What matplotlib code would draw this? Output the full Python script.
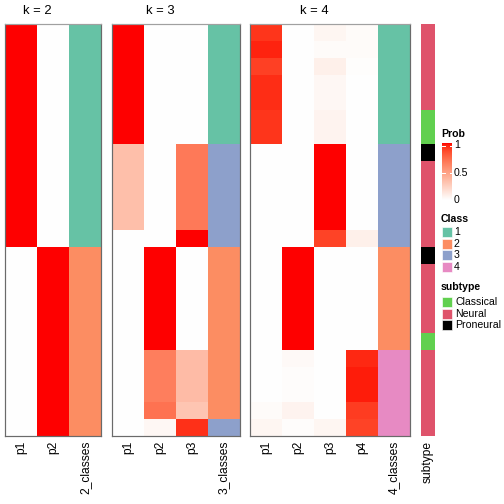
import numpy as np
import matplotlib
matplotlib.use("Agg")
import matplotlib.pyplot as plt
from matplotlib.colors import ListedColormap, to_rgb
from matplotlib.patches import Rectangle

plt.rcParams['font.family'] = ['Liberation Sans', 'DejaVu Sans']

# ---------------- data ----------------
k2_p1 = [1, 1, 1, 1, 1, 1, 1, 1, 1, 1, 1, 1, 1, 0, 0, 0, 0, 0, 0, 0, 0, 0, 0, 0]
k2_p2 = [0, 0, 0, 0, 0, 0, 0, 0, 0, 0, 0, 0, 0, 1, 1, 1, 1, 1, 1, 1, 1, 1, 1, 1]
k2_class = [1, 1, 1, 1, 1, 1, 1, 1, 1, 1, 1, 1, 1, 2, 2, 2, 2, 2, 2, 2, 2, 2, 2, 2]

k3_p1 = [1, 1, 1, 1, 1, 1, 1, 0.33, 0.33, 0.33, 0.33, 0.33, 0, 0, 0, 0, 0, 0, 0, 0, 0, 0, 0, 0]
k3_p2 = [0, 0, 0, 0, 0, 0, 0, 0, 0, 0, 0, 0, 0, 1, 1, 1, 1, 1, 1, 0.65, 0.65, 0.65, 0.7, 0.04]
k3_p3 = [0, 0, 0, 0, 0, 0, 0, 0.67, 0.67, 0.67, 0.67, 0.67, 1, 0, 0, 0, 0, 0, 0, 0.35, 0.35, 0.35, 0.3, 0.93]
k3_class = [1, 1, 1, 1, 1, 1, 1, 3, 3, 3, 3, 3, 3, 2, 2, 2, 2, 2, 2, 2, 2, 2, 2, 3]

k4_p1 = [0.92, 0.96, 0.89, 0.94, 0.94, 0.92, 0.92, 0, 0, 0, 0, 0, 0, 0, 0, 0, 0, 0, 0, 0, 0, 0, 0.02, 0.05]
k4_p2 = [0, 0, 0, 0, 0, 0, 0, 0, 0, 0, 0, 0, 0, 1, 1, 1, 1, 1, 1, 0.03, 0.015, 0.015, 0.06, 0.015]
k4_p3 = [0.05, 0.02, 0.08, 0.04, 0.04, 0.06, 0.06, 1, 1, 1, 1, 1, 0.88, 0, 0, 0, 0, 0, 0, 0, 0, 0, 0, 0.05]
k4_p4 = [0.02, 0.02, 0.01, 0, 0, 0, 0, 0, 0, 0, 0, 0, 0.08, 0, 0, 0, 0, 0, 0, 0.95, 0.97, 0.97, 0.9, 0.88]
k4_class = [1, 1, 1, 1, 1, 1, 1, 3, 3, 3, 3, 3, 3, 2, 2, 2, 2, 2, 2, 4, 4, 4, 4, 4]

subtype = ['Neural'] * 5 + ['Classical'] * 2 + ['Proneural'] + ['Neural'] * 5 + ['Proneural'] \
    + ['Neural'] * 4 + ['Classical'] + ['Neural'] * 5

class_labels = ['1', '2', '3', '4']
subtype_labels = ['Classical', 'Neural', 'Proneural']
prob_ticks = [0, 0.5, 1]
prob_tick_labels = ['0', '0.5', '1']

# ---------------- styles ----------------
class_colors = {1: '#66C2A5', 2: '#FC8D62', 3: '#8DA0CB', 4: '#E78AC3'}
subtype_colors = {'Classical': '#61D04F', 'Neural': '#DF536B', 'Proneural': '#000000'}


def srgb_to_lab(c):
    c = np.asarray(c, float)
    lin = np.where(c <= 0.04045, c / 12.92, ((c + 0.055) / 1.055) ** 2.4)
    M = np.array([[0.4124, 0.3576, 0.1805], [0.2126, 0.7152, 0.0722], [0.0193, 0.1192, 0.9505]])
    xyz = M @ lin
    xyz = xyz / np.array([0.95047, 1.0, 1.08883])
    f = np.where(xyz > 0.008856, np.cbrt(xyz), 7.787 * xyz + 16 / 116)
    return np.array([116 * f[1] - 16, 500 * (f[0] - f[1]), 200 * (f[1] - f[2])])


def lab_to_srgb(lab):
    L, a, b = lab
    fy = (L + 16) / 116
    fx = fy + a / 500
    fz = fy - b / 200
    f = np.array([fx, fy, fz])
    xyz = np.where(f ** 3 > 0.008856, f ** 3, (f - 16 / 116) / 7.787)
    xyz = xyz * np.array([0.95047, 1.0, 1.08883])
    Minv = np.array([[3.2406, -1.5372, -0.4986], [-0.9689, 1.8758, 0.0415], [0.0557, -0.2040, 1.0570]])
    lin = Minv @ xyz
    lin = np.clip(lin, 0, 1)
    c = np.where(lin <= 0.0031308, 12.92 * lin, 1.055 * lin ** (1 / 2.4) - 0.055)
    return np.clip(c, 0, 1)


w_lab = srgb_to_lab(to_rgb('white'))
r_lab = srgb_to_lab(to_rgb('red'))
cols = [lab_to_srgb(w_lab + (r_lab - w_lab) * t) for t in np.linspace(0, 1, 256)]
prob_cmap = ListedColormap(cols)

W = H = 504.0
fig = plt.figure(figsize=(7, 7), dpi=72)


def add_ax(x0, x1, y0, y1):
    return fig.add_axes([x0 / W, 1 - y1 / H, (x1 - x0) / W, (y1 - y0) / H])


def draw_heat(x0, x1, probs, classes, names, title, tx):
    ax = add_ax(x0, x1, 24, 436)
    n = len(classes)
    img = np.zeros((n, len(probs) + 1, 3))
    for j, p in enumerate(probs):
        for i in range(n):
            img[i, j] = prob_cmap(float(p[i]))[:3]
    for i in range(n):
        img[i, -1] = to_rgb(class_colors[classes[i]])
    ax.imshow(img, aspect='auto', interpolation='nearest')
    ax.set_xticks(range(len(names)))
    ax.set_xticklabels(names, rotation=90, fontsize=12)
    ax.tick_params(length=0, pad=5)
    ax.set_yticks([])
    for s in ax.spines.values():
        s.set_color('#6a6a6a')
        s.set_linewidth(1.2)
    ax.spines['top'].set_color('#a0a0a0')
    fig.text(tx / W, 1 - 11 / H, title, ha='center', va='center', fontsize=13)


draw_heat(5, 101, [k2_p1, k2_p2], k2_class, ['p1', 'p2', '2_classes'], 'k = 2', 37)
draw_heat(112, 240, [k3_p1, k3_p2, k3_p3], k3_class, ['p1', 'p2', 'p3', '3_classes'], 'k = 3', 160)
draw_heat(250, 410, [k4_p1, k4_p2, k4_p3, k4_p4], k4_class, ['p1', 'p2', 'p3', 'p4', '4_classes'], 'k = 4', 314)

# subtype annotation
ax = add_ax(421, 435, 24, 436)
simg = np.array([[to_rgb(subtype_colors[s])] for s in subtype])
ax.imshow(simg, aspect='auto', interpolation='nearest')
ax.set_xticks([0])
ax.set_xticklabels(['subtype'], rotation=90, fontsize=12)
ax.tick_params(length=0, pad=5)
ax.set_yticks([])
for s in ax.spines.values():
    s.set_visible(False)

# ---------------- legends ----------------
lax = fig.add_axes([0, 0, 1, 1])
lax.set_xlim(0, W)
lax.set_ylim(H, 0)
lax.axis('off')

lax.text(441, 134, 'Prob', fontsize=10.5, fontweight='bold', va='center', ha='left')
cb_top, cb_bot = 143, 200
grad = np.linspace(1, 0, 200).reshape(-1, 1)
lax.imshow(grad, cmap=prob_cmap, extent=(442, 452, cb_bot, cb_top), aspect='auto', vmin=0, vmax=1)
for t, tl in zip(prob_ticks, prob_tick_labels):
    yy = cb_bot - (cb_bot - cb_top - 2.5) * t
    lax.text(454, yy, tl, fontsize=10.5, va='center', ha='left')
    if t > 0:
        lax.plot([442, 444.5], [yy, yy], color='white', lw=1)
        lax.plot([449.5, 452], [yy, yy], color='white', lw=1)

lax.text(441, 219, 'Class', fontsize=10.5, fontweight='bold', va='center', ha='left')
for i, lab in enumerate(class_labels):
    y0 = 227 + i * 11.7
    lax.add_patch(Rectangle((442, y0), 10, 10, facecolor=class_colors[int(lab)], edgecolor='white', lw=0.6))
    lax.text(454, y0 + 5, lab, fontsize=10.5, va='center', ha='left')

lax.text(441, 287, 'subtype', fontsize=10.5, fontweight='bold', va='center', ha='left')
for i, lab in enumerate(subtype_labels):
    y0 = 297 + i * 11.7
    lax.add_patch(Rectangle((442, y0), 10, 10, facecolor=subtype_colors[lab], edgecolor='white', lw=0.6))
    lax.text(455, y0 + 5, lab, fontsize=10.5, va='center', ha='left')

fig.savefig('out.png', dpi=72)
